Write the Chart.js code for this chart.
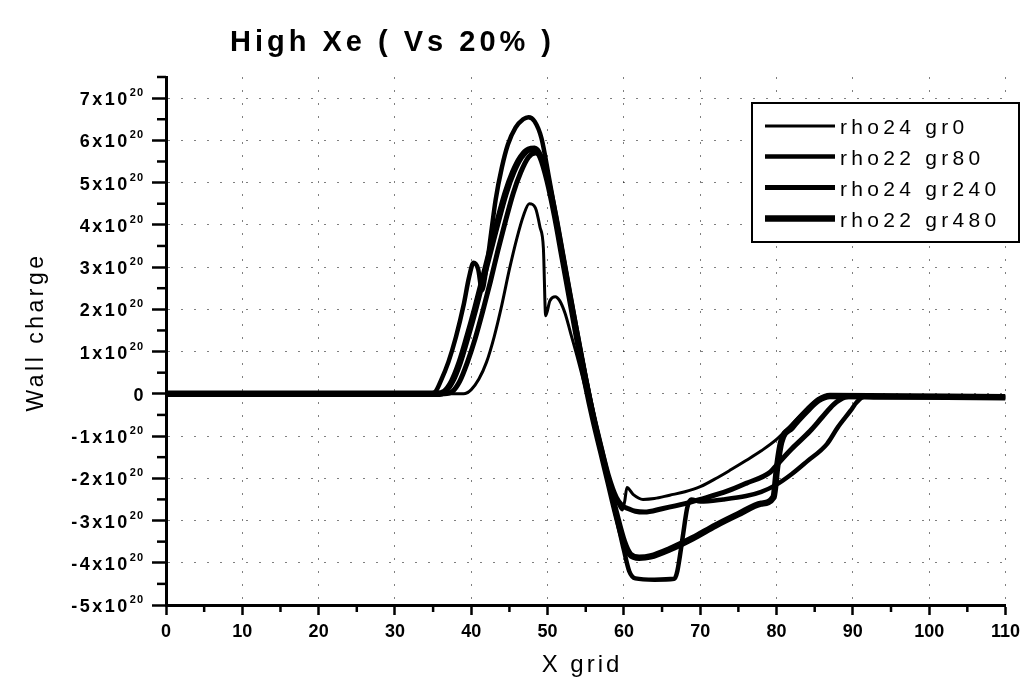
<!DOCTYPE html>
<html><head><meta charset="utf-8">
<script src="https://cdn.jsdelivr.net/npm/chart.js@4.4.1/dist/chart.umd.min.js"></script>
<style>html,body{margin:0;padding:0;background:#fff;overflow:hidden}#wrap{width:1026px;height:686px}</style>
</head><body><div id="wrap"><canvas id="c" width="1026" height="686"></canvas></div>
<script>
const TITLE = 'High Xe ( Vs 20% )';
const X_TITLE = 'X grid';
const Y_TITLE = 'Wall charge';
const seriesNames = ['rho24 gr0', 'rho22 gr80', 'rho24 gr240', 'rho22 gr480'];
const xTickValues = [0, 10, 20, 30, 40, 50, 60, 70, 80, 90, 100, 110];
const yTickValues = [-5, -4, -3, -2, -1, 0, 1, 2, 3, 4, 5, 6, 7];
const yTickLabels = ['-5x10', '-4x10', '-3x10', '-2x10', '-1x10', '0', '1x10', '2x10', '3x10', '4x10', '5x10', '6x10', '7x10'];
const yTickExponent = '20';

// values in units of 10^20
const gr0X = [0, 39, 40, 41, 42, 43, 44, 45, 46, 46.8, 47.6, 48.4, 49, 49.45, 49.75, 50.3, 51, 51.6, 52.3, 53, 54, 55, 56, 57, 58, 59, 59.8, 60.1, 60.4, 61.2, 62.5, 64, 66, 68, 70, 72.3, 74, 76, 78, 80, 82, 84.4, 85.5, 86.8, 88, 110];
const gr0Y = [0, 0, 0.1, 0.35, 0.75, 1.35, 2.1, 2.95, 3.7, 4.2, 4.5, 4.4, 3.95, 3.45, 1.85, 2.2, 2.3, 2.2, 1.9, 1.45, 0.8, 0.1, -0.6, -1.3, -1.95, -2.5, -2.75, -2.55, -2.22, -2.38, -2.5, -2.48, -2.4, -2.32, -2.2, -1.98, -1.8, -1.58, -1.35, -1.08, -0.72, -0.28, -0.12, -0.04, -0.07, -0.08];

const gr80X = [0, 34.5, 35.3, 36, 37, 38, 39, 39.7, 40.3, 40.9, 41.4, 42, 42.6, 43.2, 44, 44.8, 45.8, 46.8, 47.5, 48.3, 49.2, 50.2, 51, 52, 53, 54, 55, 56, 57, 58, 59, 60, 60.7, 61.5, 64, 66.6, 67, 67.7, 68.3, 68.8, 70, 73, 76, 78, 80, 82, 84, 86.6, 88, 89.7, 90.5, 91.5, 93, 110];
const gr80Y = [0, 0, 0.05, 0.3, 0.75, 1.35, 2.1, 2.75, 3.1, 2.95, 2.45, 3.0, 3.8, 4.6, 5.35, 5.9, 6.3, 6.5, 6.55, 6.45, 6.05, 5.1, 4.3, 3.3, 2.3, 1.35, 0.4, -0.5, -1.3, -2.1, -2.9, -3.7, -4.2, -4.37, -4.4, -4.38, -4.2, -3.4, -2.7, -2.5, -2.55, -2.5, -2.42, -2.32, -2.15, -1.9, -1.6, -1.19, -0.8, -0.4, -0.2, -0.07, -0.08, -0.08];

const gr240X = [0, 36.5, 37.5, 38.5, 39.5, 40.5, 41.5, 42.5, 43.5, 44.5, 45.5, 46.5, 47.5, 48.4, 49.3, 50.1, 51, 52, 53, 54, 55, 56, 57, 58, 59, 59.8, 60.6, 61.5, 62.7, 65, 68, 70, 73.6, 76, 79.2, 80.1, 82, 84.4, 86, 87.5, 89, 90, 110];
const gr240Y = [0, 0, 0.05, 0.3, 0.75, 1.3, 1.95, 2.65, 3.4, 4.1, 4.75, 5.25, 5.6, 5.7, 5.55, 5.0, 4.2, 3.2, 2.2, 1.25, 0.35, -0.5, -1.25, -1.95, -2.45, -2.65, -2.72, -2.78, -2.8, -2.72, -2.6, -2.5, -2.3, -2.12, -1.85, -1.67, -1.3, -0.88, -0.55, -0.25, -0.08, -0.06, -0.08];

const gr480X = [0, 35.5, 36.5, 37.5, 38.5, 39.5, 40.5, 41.5, 42.5, 43.5, 44.5, 45.5, 46.5, 47.5, 48.3, 49.1, 50, 51, 52, 53, 54, 55, 56, 57, 58, 59, 60, 60.8, 62, 63.5, 66, 69, 72, 75, 78, 79.6, 80.1, 80.6, 82, 84, 85.5, 87, 110];
const gr480Y = [0, 0, 0.05, 0.3, 0.75, 1.35, 2.0, 2.7, 3.4, 4.1, 4.75, 5.25, 5.6, 5.78, 5.8, 5.6, 5.05, 4.2, 3.2, 2.2, 1.2, 0.25, -0.6, -1.35, -2.1, -2.85, -3.5, -3.8, -3.88, -3.85, -3.68, -3.42, -3.12, -2.85, -2.6, -2.45, -1.7, -1.15, -0.8, -0.4, -0.15, -0.05, -0.08];

const FONT = '"Liberation Sans", Arial, Helvetica, sans-serif';
const pts = (xs, ys) => xs.map((x, i) => ({x: x, y: ys[i]}));
const seriesData = [pts(gr0X, gr0Y), pts(gr80X, gr80Y), pts(gr240X, gr240Y), pts(gr480X, gr480Y)];
const seriesWidths = [3, 4.5, 5, 6.5];

const datasets = seriesNames.map((name, i) => ({
  label: name,
  data: seriesData[i],
  borderColor: '#000',
  backgroundColor: '#000',
  borderWidth: seriesWidths[i],
  pointRadius: 0,
  fill: false,
  cubicInterpolationMode: 'monotone'
}));

const decor = {
  id: 'decor',
  afterDraw(chart) {
    const ctx = chart.ctx;
    const xs = chart.scales.x, ys = chart.scales.y;
    const ca = chart.chartArea;
    ctx.save();
    ctx.fillStyle = '#000';
    ctx.strokeStyle = '#000';
    // minor ticks
    ctx.lineWidth = 2.5;
    for (let v = -4.5; v <= 7.5; v += 1) {
      const py = ys.getPixelForValue(v);
      ctx.beginPath(); ctx.moveTo(ca.left - 9, py); ctx.lineTo(ca.left, py); ctx.stroke();
    }
    for (let v = 5; v < 110; v += 10) {
      const px = xs.getPixelForValue(v);
      ctx.beginPath(); ctx.moveTo(px, ca.bottom); ctx.lineTo(px, ca.bottom + 7); ctx.stroke();
    }
    // title
    ctx.textBaseline = 'alphabetic';
    ctx.textAlign = 'left';
    ctx.font = 'bold 29px ' + FONT;
    ctx.letterSpacing = '4px';
    ctx.fillText(TITLE, 230, 51);
    // y tick labels
    yTickValues.forEach((v, i) => {
      const py = ys.getPixelForValue(v);
      const main = yTickLabels[i];
      const xEnd = 144;
      ctx.font = 'bold 18px ' + FONT;
      ctx.letterSpacing = '2.5px';
      if (v === 0) {
        const w = ctx.measureText(main).width;
        ctx.fillText(main, xEnd - w + 2, py + 7);
        return;
      }
      ctx.font = 'bold 11px ' + FONT;
      ctx.letterSpacing = '1px';
      const sw = ctx.measureText(yTickExponent).width;
      ctx.fillText(yTickExponent, xEnd - sw, py - 2);
      ctx.font = 'bold 18px ' + FONT;
      ctx.letterSpacing = '2.5px';
      const mw = ctx.measureText(main).width;
      ctx.fillText(main, xEnd - sw - mw, py + 7);
    });
    // x title
    ctx.font = '24px ' + FONT;
    ctx.letterSpacing = '3px';
    const xtw = ctx.measureText(X_TITLE).width;
    ctx.fillText(X_TITLE, 582 - xtw / 2, 672);
    // y title
    ctx.save();
    ctx.translate(43, 332);
    ctx.rotate(-Math.PI / 2);
    ctx.font = '23px ' + FONT;
    ctx.letterSpacing = '3.5px';
    const ytw = ctx.measureText(Y_TITLE).width;
    ctx.fillText(Y_TITLE, -ytw / 2, 0);
    ctx.restore();
    // legend
    const lx = 752, ly = 103, lw = 267, lh = 139;
    ctx.fillStyle = '#fff';
    ctx.fillRect(lx, ly, lw, lh);
    ctx.lineWidth = 2;
    ctx.strokeRect(lx, ly, lw, lh);
    ctx.fillStyle = '#000';
    const rowY = [126, 156.5, 187.5, 218.5];
    chart.data.datasets.forEach((ds, i) => {
      const y = rowY[i];
      ctx.lineWidth = ds.borderWidth;
      ctx.beginPath(); ctx.moveTo(765, y); ctx.lineTo(835, y); ctx.stroke();
      ctx.font = '21px ' + FONT;
      ctx.letterSpacing = '4.3px';
      ctx.fillText(ds.label, 840, y + 8);
    });
    ctx.restore();
  }
};

new Chart(document.getElementById('c'), {
  type: 'line',
  data: { datasets: datasets },
  options: {
    responsive: false,
    animation: false,
    devicePixelRatio: 1,
    layout: { padding: { left: 0, right: 17, top: 77, bottom: 0 } },
    plugins: { legend: { display: false }, title: { display: false }, tooltip: { enabled: false } },
    scales: {
      x: {
        type: 'linear', min: 0, max: 110,
        afterBuildTicks: (s) => { s.ticks = xTickValues.map(v => ({value: v})); },
        afterFit: (s) => { s.height = 81; },
        ticks: { color: '#000', font: { family: FONT, size: 18, weight: 'bold' }, padding: 6, maxRotation: 0, autoSkip: false },
        grid: { color: 'rgba(0,0,0,0.5)', lineWidth: 1, tickLength: 10, tickColor: '#000', tickWidth: 2.5, drawTicks: true },
        border: { display: true, color: '#000', width: 3, dash: [2, 11] }
      },
      y: {
        type: 'linear', min: -5, max: 7.5,
        afterBuildTicks: (s) => { s.ticks = yTickValues.map(v => ({value: v})); },
        afterFit: (s) => { s.width = 166; },
        ticks: { display: false },
        grid: { color: 'rgba(0,0,0,0.5)', lineWidth: 1, tickLength: 14, tickColor: '#000', tickWidth: 2.5, drawTicks: true },
        border: { display: true, color: '#000', width: 3, dash: [2, 11] }
      }
    }
  },
  plugins: [decor]
});
</script></body></html>
